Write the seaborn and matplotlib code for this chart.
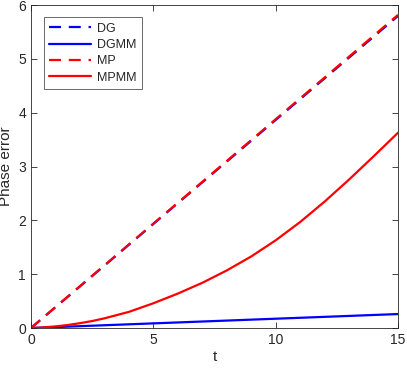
import matplotlib
matplotlib.use("Agg")
import matplotlib.pyplot as plt
import seaborn as sns
import pandas as pd

# values
t_line = [0, 15]
dg = [0, 5.80]
dgmm = [0, 0.26]
mp = [0, 5.82]

t_curve = [0, 0.5, 1, 1.5, 2, 2.5, 3, 4, 5, 6, 7, 8, 9, 10, 11, 12, 13, 14, 15]
mpmm = [0, 0.012, 0.03, 0.056, 0.09, 0.13, 0.18, 0.30, 0.46, 0.64, 0.84,
        1.07, 1.33, 1.63, 1.97, 2.35, 2.76, 3.19, 3.63]

sns.set_style("white")
plt.rcParams['font.family'] = ['Liberation Sans', 'DejaVu Sans']

fig = plt.figure(figsize=(4.07, 3.69), dpi=100)
ax = fig.add_axes([0.076, 0.111, 0.902, 0.875])

dash = (5.4, 3.5)
lw = 1.6
sns.lineplot(x=t_line, y=dg, ax=ax, color=(0, 0, 1), lw=lw,
             linestyle=(0, dash), label="DG")
sns.lineplot(x=t_line, y=dgmm, ax=ax, color=(0, 0, 1), lw=lw, label="DGMM")
sns.lineplot(x=t_line, y=mp, ax=ax, color=(1, 0, 0), lw=lw,
             linestyle=(0, dash), label="MP")
sns.lineplot(x=t_curve, y=mpmm, ax=ax, color=(1, 0, 0), lw=lw, label="MPMM")

ax.set_xlim(0, 15)
ax.set_ylim(0, 6)
ax.set_xticks([0, 5, 10, 15])
ax.set_yticks([0, 1, 2, 3, 4, 5, 6])
ax.set_xlabel("t", fontsize=11, color="#262626", labelpad=2)
ax.set_ylabel("Phase error", fontsize=11, color="#262626", labelpad=4)

for s in ax.spines.values():
    s.set_visible(True)
    s.set_color("#262626")
    s.set_linewidth(0.6)
ax.tick_params(direction="in", length=4, width=0.6, color="#262626",
               labelcolor="#262626", labelsize=10, top=True, right=True,
               bottom=True, left=True)

leg = ax.legend(loc="upper left", bbox_to_anchor=(0.035, 0.963),
                borderaxespad=0, fontsize=9, handlelength=3.3,
                handletextpad=0.5, borderpad=0.45, labelspacing=0.35,
                frameon=True, fancybox=False)
leg.get_frame().set_edgecolor("#262626")
leg.get_frame().set_linewidth(0.6)

fig.savefig("out.png", dpi=100)
